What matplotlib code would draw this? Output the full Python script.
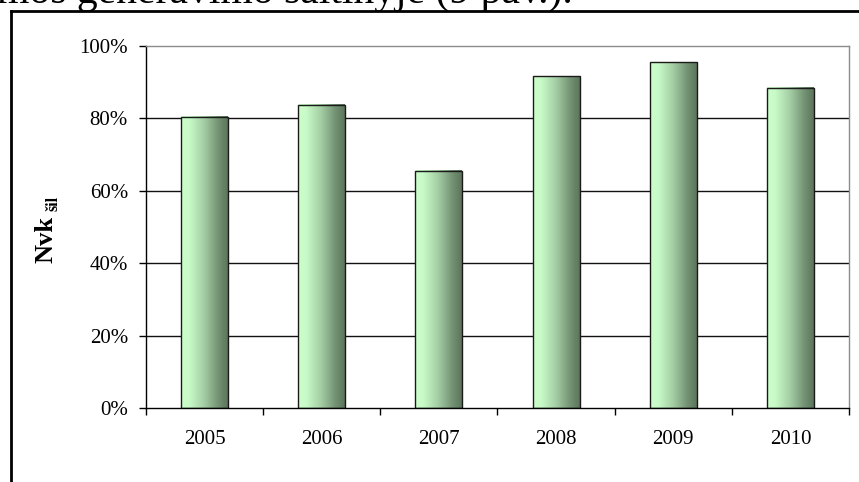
import numpy as np
import matplotlib
matplotlib.use("Agg")
import matplotlib.pyplot as plt
from matplotlib.colors import LinearSegmentedColormap
from matplotlib.lines import Line2D

years = ["2005", "2006", "2007", "2008", "2009", "2010"]
values = [0.805, 0.838, 0.655, 0.917, 0.955, 0.885]
yticks = [0.0, 0.2, 0.4, 0.6, 0.8, 1.0]
ytick_labels = ["0%", "20%", "40%", "60%", "80%", "100%"]

serif = "Liberation Serif"
plt.rcParams["font.family"] = [serif, "DejaVu Serif"]

fig = plt.figure(figsize=(8.59, 4.82), dpi=100)
fig.patch.set_facecolor("white")
W, H = 859, 482
ax = fig.add_axes([146 / W, (H - 408) / H, (849 - 146) / W, (408 - 46) / H])

cmap = LinearSegmentedColormap.from_list(
    "g",
    [(0.0, (0.80, 1.00, 0.80)),
     (0.18, (0.78, 0.98, 0.78)),
     (0.50, (0.64, 0.80, 0.64)),
     (0.80, (0.45, 0.57, 0.45)),
     (1.0, (0.36, 0.46, 0.36))])
grad = np.linspace(0, 1, 256).reshape(1, -1)

x = np.arange(len(years))
bars = ax.bar(x, values, width=0.40, facecolor="none", edgecolor="#1a1a1a",
              linewidth=1.0, zorder=4)
for b in bars:
    ax.imshow(grad, cmap=cmap, aspect="auto", zorder=3,
              extent=(b.get_x(), b.get_x() + b.get_width(), 0, b.get_height()),
              interpolation="bilinear")

ax.set_xlim(-0.5, len(years) - 0.5)
ax.set_ylim(0, 1.0)
ax.set_yticks(yticks)
ax.set_yticklabels(ytick_labels)
ax.set_xticks(x)
ax.set_xticklabels(years)
ax.set_xticks(np.arange(-0.5, len(years), 1.0), minor=True)
ax.tick_params(axis="x", which="major", length=0, pad=16, labelsize=15)
ax.tick_params(axis="x", which="minor", length=5, width=1.0, direction="out", color="black")
ax.tick_params(axis="y", length=5, width=1.0, direction="out", pad=8, labelsize=15, color="black")

for yv in yticks[1:-1]:
    ax.axhline(yv, color="#111111", linewidth=1.0, zorder=1)

ax.spines["left"].set_color("black")
ax.spines["bottom"].set_color("black")
ax.spines["top"].set_color("#8c8c8c")
ax.spines["right"].set_color("#8c8c8c")
for s in ax.spines.values():
    s.set_linewidth(1.0)
ax.spines["bottom"].set_zorder(5)

# y label: "Nvk" with subscript "šil"
fig.text(46 / W, 1 - 239 / H, "Nvk", rotation=90, fontsize=19, fontweight="bold",
         ha="center", va="center")
fig.text(53 / W, 1 - 203 / H, "šil", rotation=90, fontsize=11.5, fontweight="bold",
         ha="center", va="center")

# outer frame
fig.add_artist(Line2D([11 / W, 11 / W], [0, 1 - 11 / H], transform=fig.transFigure,
                      color="black", linewidth=2.0))
fig.add_artist(Line2D([11 / W, 1.0], [1 - 11 / H, 1 - 11 / H], transform=fig.transFigure,
                      color="black", linewidth=2.0))

# cut-off text above the chart (cropped in the reference as well)
fig.text(-3 / W, 1 - 3 / H, "mos generavimo šaltinyje (9 pav.).", fontsize=30,
         ha="left", va="baseline")

fig.savefig("out.png", dpi=100)
